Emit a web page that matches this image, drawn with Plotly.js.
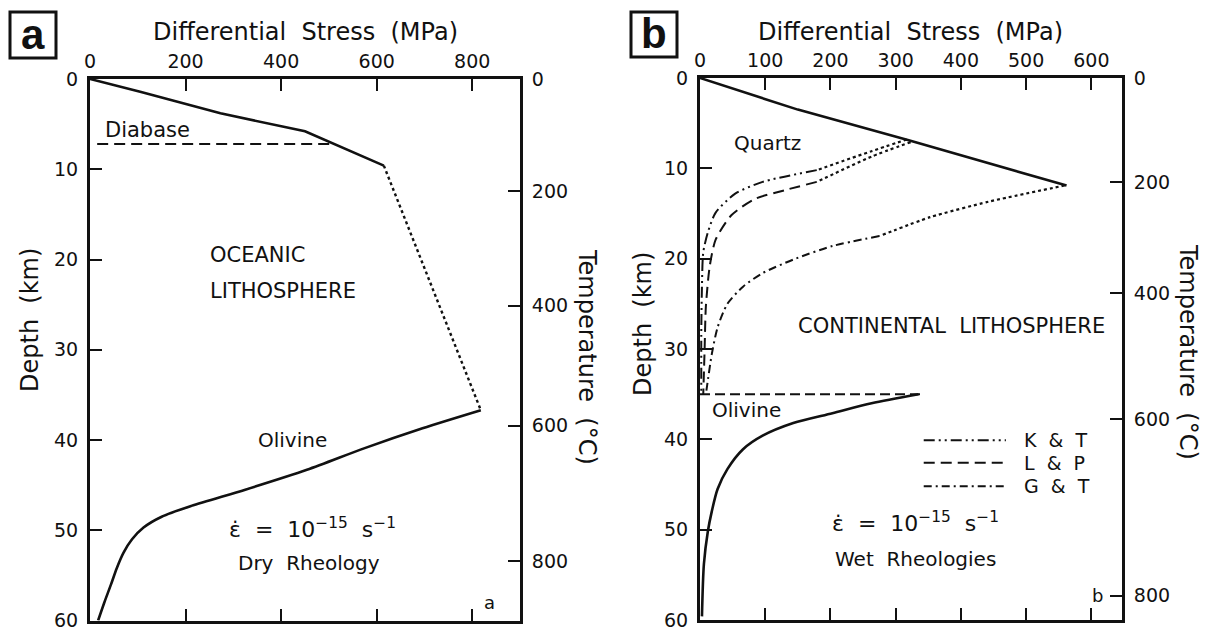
<!DOCTYPE html>
<html><head><meta charset="utf-8">
<script src="https://cdn.plot.ly/plotly-3.0.1.min.js"></script>
<style>html,body{margin:0;padding:0;background:#fff}#chart{width:1211px;height:630px}</style>
</head><body><div id="chart"></div>
<script>
// ---------- data ----------
const stressTicksA = [0, 200, 400, 600, 800];
const stressTicksB = [0, 100, 200, 300, 400, 500, 600];
const depthTicks = [0, 10, 20, 30, 40, 50, 60];
const tempLabels = ['0', '200', '400', '600', '800'];
const tempDepthsA = [0, 12.45, 25.1, 38.4, 53.45];
const tempDepthsB = [0, 11.5, 23.8, 37.75, 57.3];

// panel a (dry, oceanic)
const aCrustStress = [0, 105, 273, 450, 615];
const aCrustDepth = [0, 1.4, 3.8, 5.8, 9.6];
const aTransStress = [615, 818];
const aTransDepth = [9.6, 36.7];
const aOlivineStress = [818, 696, 575, 454, 325, 212, 150, 112, 88, 70, 56, 44, 30, 17];
const aOlivineDepth = [36.7, 38.7, 40.9, 43.3, 45.5, 47.3, 48.5, 49.7, 51.0, 52.5, 54.2, 56, 58, 60];
const aDiabaseStress = [15, 506];
const aDiabaseDepth = [7.2, 7.2];

// panel b (wet, continental)
const bQuartzStress = [0, 150, 320, 562];
const bQuartzDepth = [0, 3.5, 6.9, 11.9];
const bKTDotStress = [317, 263, 179];
const bKTDotDepth = [6.8, 8.1, 10.2];
const bKTStress = [179, 96, 54, 24, 12, 5, 3, 2, 2];
const bKTDepth = [10.2, 11.5, 12.8, 14.9, 17.1, 19.3, 23, 28, 35];
const bLPDotStress = [323, 263, 179];
const bLPDotDepth = [7.1, 8.7, 11.5];
const bLPStress = [179, 131, 84, 48, 24, 15, 9, 7, 5];
const bLPDepth = [11.5, 12.4, 13.4, 15.2, 17.9, 20.8, 25.3, 30.2, 35];
const bGTDotStress = [559, 442, 353, 275];
const bGTDotDepth = [11.9, 13.7, 15.4, 17.5];
const bGTStress = [275, 203, 143, 96, 66, 42, 27, 18, 11, 9];
const bGTDepth = [17.5, 18.6, 20.1, 21.6, 23.1, 25, 27.6, 30.6, 34, 35];
const bMohoStress = [0, 344];
const bMohoDepth = [35, 35];
const bOlivineStress = [335, 263, 203, 143, 96, 66, 42, 27, 18, 12, 6, 3];
const bOlivineDepth = [35, 36, 37.1, 38.2, 39.6, 41.1, 43.3, 45.5, 48, 50.2, 53.8, 59.6];

const legendNames = ['K & T', 'L & P', 'G & T'];
const legendDepths = [40.1, 42.6, 45.2];

// ---------- styles ----------
const W = 1211, H = 630;
const px = v => v / W, py = v => 1 - v / H;
const FONT = 'DejaVu Sans, Arial, sans-serif';
const K = '#111';
const DASH_KT = '11px,4px,2px,4px,2px,4px';
const DASH_LP = '11px,6px';
const DASH_GT = '8px,4px,2px,4px';

function ln(x, y, xa, ya, dash, w, smooth) {
  const line = {color: K, width: w || 2.6, dash: dash || 'solid'};
  if (smooth) { line.shape = 'spline'; line.smoothing = smooth; }
  return {x: x, y: y, xaxis: xa, yaxis: ya, mode: 'lines', type: 'scatter',
    line: line, hoverinfo: 'skip', showlegend: false};
}
// invisible helpers so the temperature axes get drawn
function ghost(x, y, xa, ya) {
  return {x: x, y: y, xaxis: xa, yaxis: ya, mode: 'markers', type: 'scatter',
    marker: {opacity: 0, size: 1}, hoverinfo: 'skip', showlegend: false};
}

const traces = [
  ln(aCrustStress, aCrustDepth, 'x', 'y'),
  ln(aTransStress, aTransDepth, 'x', 'y', 'dot', 2.4),
  ln(aOlivineStress, aOlivineDepth, 'x', 'y', 'solid', 2.6, 0.8),
  ln(aDiabaseStress, aDiabaseDepth, 'x', 'y', '11px,6px', 2),
  ln(bQuartzStress, bQuartzDepth, 'x2', 'y3'),
  ln(bKTDotStress, bKTDotDepth, 'x2', 'y3', 'dot', 2.2, 0.6),
  ln(bKTStress, bKTDepth, 'x2', 'y3', DASH_KT, 2, 0.7),
  ln(bLPDotStress, bLPDotDepth, 'x2', 'y3', 'dot', 2.2, 0.6),
  ln(bLPStress, bLPDepth, 'x2', 'y3', DASH_LP, 2, 0.7),
  ln(bGTDotStress, bGTDotDepth, 'x2', 'y3', 'dot', 2.2, 0.6),
  ln(bGTStress, bGTDepth, 'x2', 'y3', DASH_GT, 2, 0.7),
  ln(bMohoStress, bMohoDepth, 'x2', 'y3', '10px,5px', 2),
  ln(bOlivineStress, bOlivineDepth, 'x2', 'y3', 'solid', 2.6, 0.8),
  ghost(aDiabaseStress, aDiabaseDepth, 'x', 'y2'),
  ghost(bMohoStress, bMohoDepth, 'x2', 'y4')
];

const tickFont = {family: FONT, size: 19, color: K};
function xAx(domain, range, ticks, anchor) {
  return {domain: domain, range: range, tickvals: ticks, side: 'top', anchor: anchor,
    ticks: 'inside', ticklen: 12, tickwidth: 2, tickcolor: K, showline: true, linewidth: 3,
    linecolor: K, mirror: 'ticks', showgrid: false, zeroline: false, tickfont: tickFont,
    ticklabelstandoff: 0, ticklabeloverflow: 'allow', fixedrange: true};
}
function yAx(domain, anchor) {
  return {domain: domain, range: [60, 0], tickvals: depthTicks, anchor: anchor,
    ticks: 'inside', ticklen: 12, tickwidth: 2, tickcolor: K, showline: true, linewidth: 3,
    linecolor: K, mirror: true, showgrid: false, zeroline: false, tickfont: tickFont,
    ticklabelstandoff: 5, ticklabeloverflow: 'allow', fixedrange: true};
}
function tAx(domain, over, anchor, depths) {
  return {domain: domain, overlaying: over, side: 'right', anchor: anchor, range: [60, 0],
    tickvals: depths, ticktext: tempLabels, ticks: 'inside', ticklen: 12, tickwidth: 2,
    tickcolor: K, showline: true, linewidth: 3, linecolor: K, showgrid: false, zeroline: false,
    tickfont: tickFont, ticklabelstandoff: 5, ticklabeloverflow: 'allow', fixedrange: true};
}

const dA = [px(90), px(520)], dB = [px(700), px(1122)];
const vA = [py(620.5), py(79)], vB = [py(620), py(78)];

const tf = (s) => ({family: FONT, size: s || 20, color: K});
const eps = 'ε\u0307  =  10<sup>\u221215</sup>  s<sup>\u22121</sup>';

function pa(x, y, text, size, angle, fam) {
  return {xref: 'paper', yref: 'paper', x: px(x), y: py(y), xanchor: 'center', yanchor: 'middle',
    text: text, textangle: angle || 0, showarrow: false, font: fam || tf(size)};
}
function da(xr, yr, x, y, text, size, xanchor) {
  return {xref: xr, yref: yr, x: x, y: y, xanchor: xanchor || 'center', yanchor: 'middle',
    text: text, showarrow: false, font: tf(size)};
}

const boxFont = {family: 'Liberation Sans, Arial, sans-serif', size: 42, color: K};
const annotations = [
  pa(305, 32, 'Differential  Stress  (MPa)', 24),
  pa(910, 32, 'Differential  Stress  (MPa)', 24),
  pa(30, 320, 'Depth  (km)', 24, -90),
  pa(643, 324, 'Depth  (km)', 24, -90),
  pa(587, 357, 'Temperature  (°C)', 24, 90),
  pa(1188, 352, 'Temperature  (°C)', 24, 90),
  pa(33, 34, '<b>a</b>', 0, 0, boxFont),
  pa(654, 33, '<b>b</b>', 0, 0, boxFont),
  // panel a texts
  da('x', 'y', 28, 5.6, 'Diabase', 21, 'left'),
  da('x', 'y', 248, 19.5, 'OCEANIC', 21, 'left'),
  da('x', 'y', 248, 23.5, 'LITHOSPHERE', 21, 'left'),
  da('x', 'y', 423, 40, 'Olivine', 20),
  da('x', 'y', 465, 49.8, eps, 22),
  da('x', 'y', 458, 53.6, 'Dry  Rheology', 20),
  da('x', 'y', 837, 58, 'a', 18),
  // panel b texts
  da('x2', 'y3', 104, 7.2, 'Quartz', 20),
  da('x2', 'y3', 386, 27.5, 'CONTINENTAL  LITHOSPHERE', 21),
  da('x2', 'y3', 15, 36.8, 'Olivine', 20, 'left'),
  da('x2', 'y3', 331, 49.2, eps, 22),
  da('x2', 'y3', 330, 53.3, 'Wet  Rheologies', 20),
  da('x2', 'y3', 610, 57.3, 'b', 18)
];
const legendDash = [DASH_KT, DASH_LP, DASH_GT];
legendNames.forEach((n, i) => annotations.push(da('x2', 'y3', 493, legendDepths[i], n.replace(/ /g, '  '), 19, 'left')));

const shapes = [
  {type: 'rect', xref: 'paper', yref: 'paper', x0: px(10), x1: px(56), y0: py(58), y1: py(12), line: {color: K, width: 3}},
  {type: 'rect', xref: 'paper', yref: 'paper', x0: px(631), x1: px(677), y0: py(57), y1: py(12), line: {color: K, width: 3}}
];
legendDepths.forEach((d, i) => shapes.push({type: 'line', xref: 'x2', yref: 'y3', x0: 343, x1: 469, y0: d, y1: d,
  line: {color: K, width: 2, dash: legendDash[i]}}));

const layout = {
  width: W, height: H, margin: {l: 0, r: 0, t: 0, b: 0},
  paper_bgcolor: '#fff', plot_bgcolor: '#fff', showlegend: false,
  font: {family: FONT, color: K},
  xaxis: xAx(dA, [0, 900], stressTicksA, 'y'),
  yaxis: yAx(vA, 'x'),
  yaxis2: tAx(vA, 'y', 'x', tempDepthsA),
  xaxis2: xAx(dB, [0, 647], stressTicksB, 'y3'),
  yaxis3: yAx(vB, 'x2'),
  yaxis4: tAx(vB, 'y3', 'x2', tempDepthsB),
  annotations: annotations, shapes: shapes
};
Plotly.newPlot('chart', traces, layout, {displayModeBar: false, staticPlot: true});
</script></body></html>
